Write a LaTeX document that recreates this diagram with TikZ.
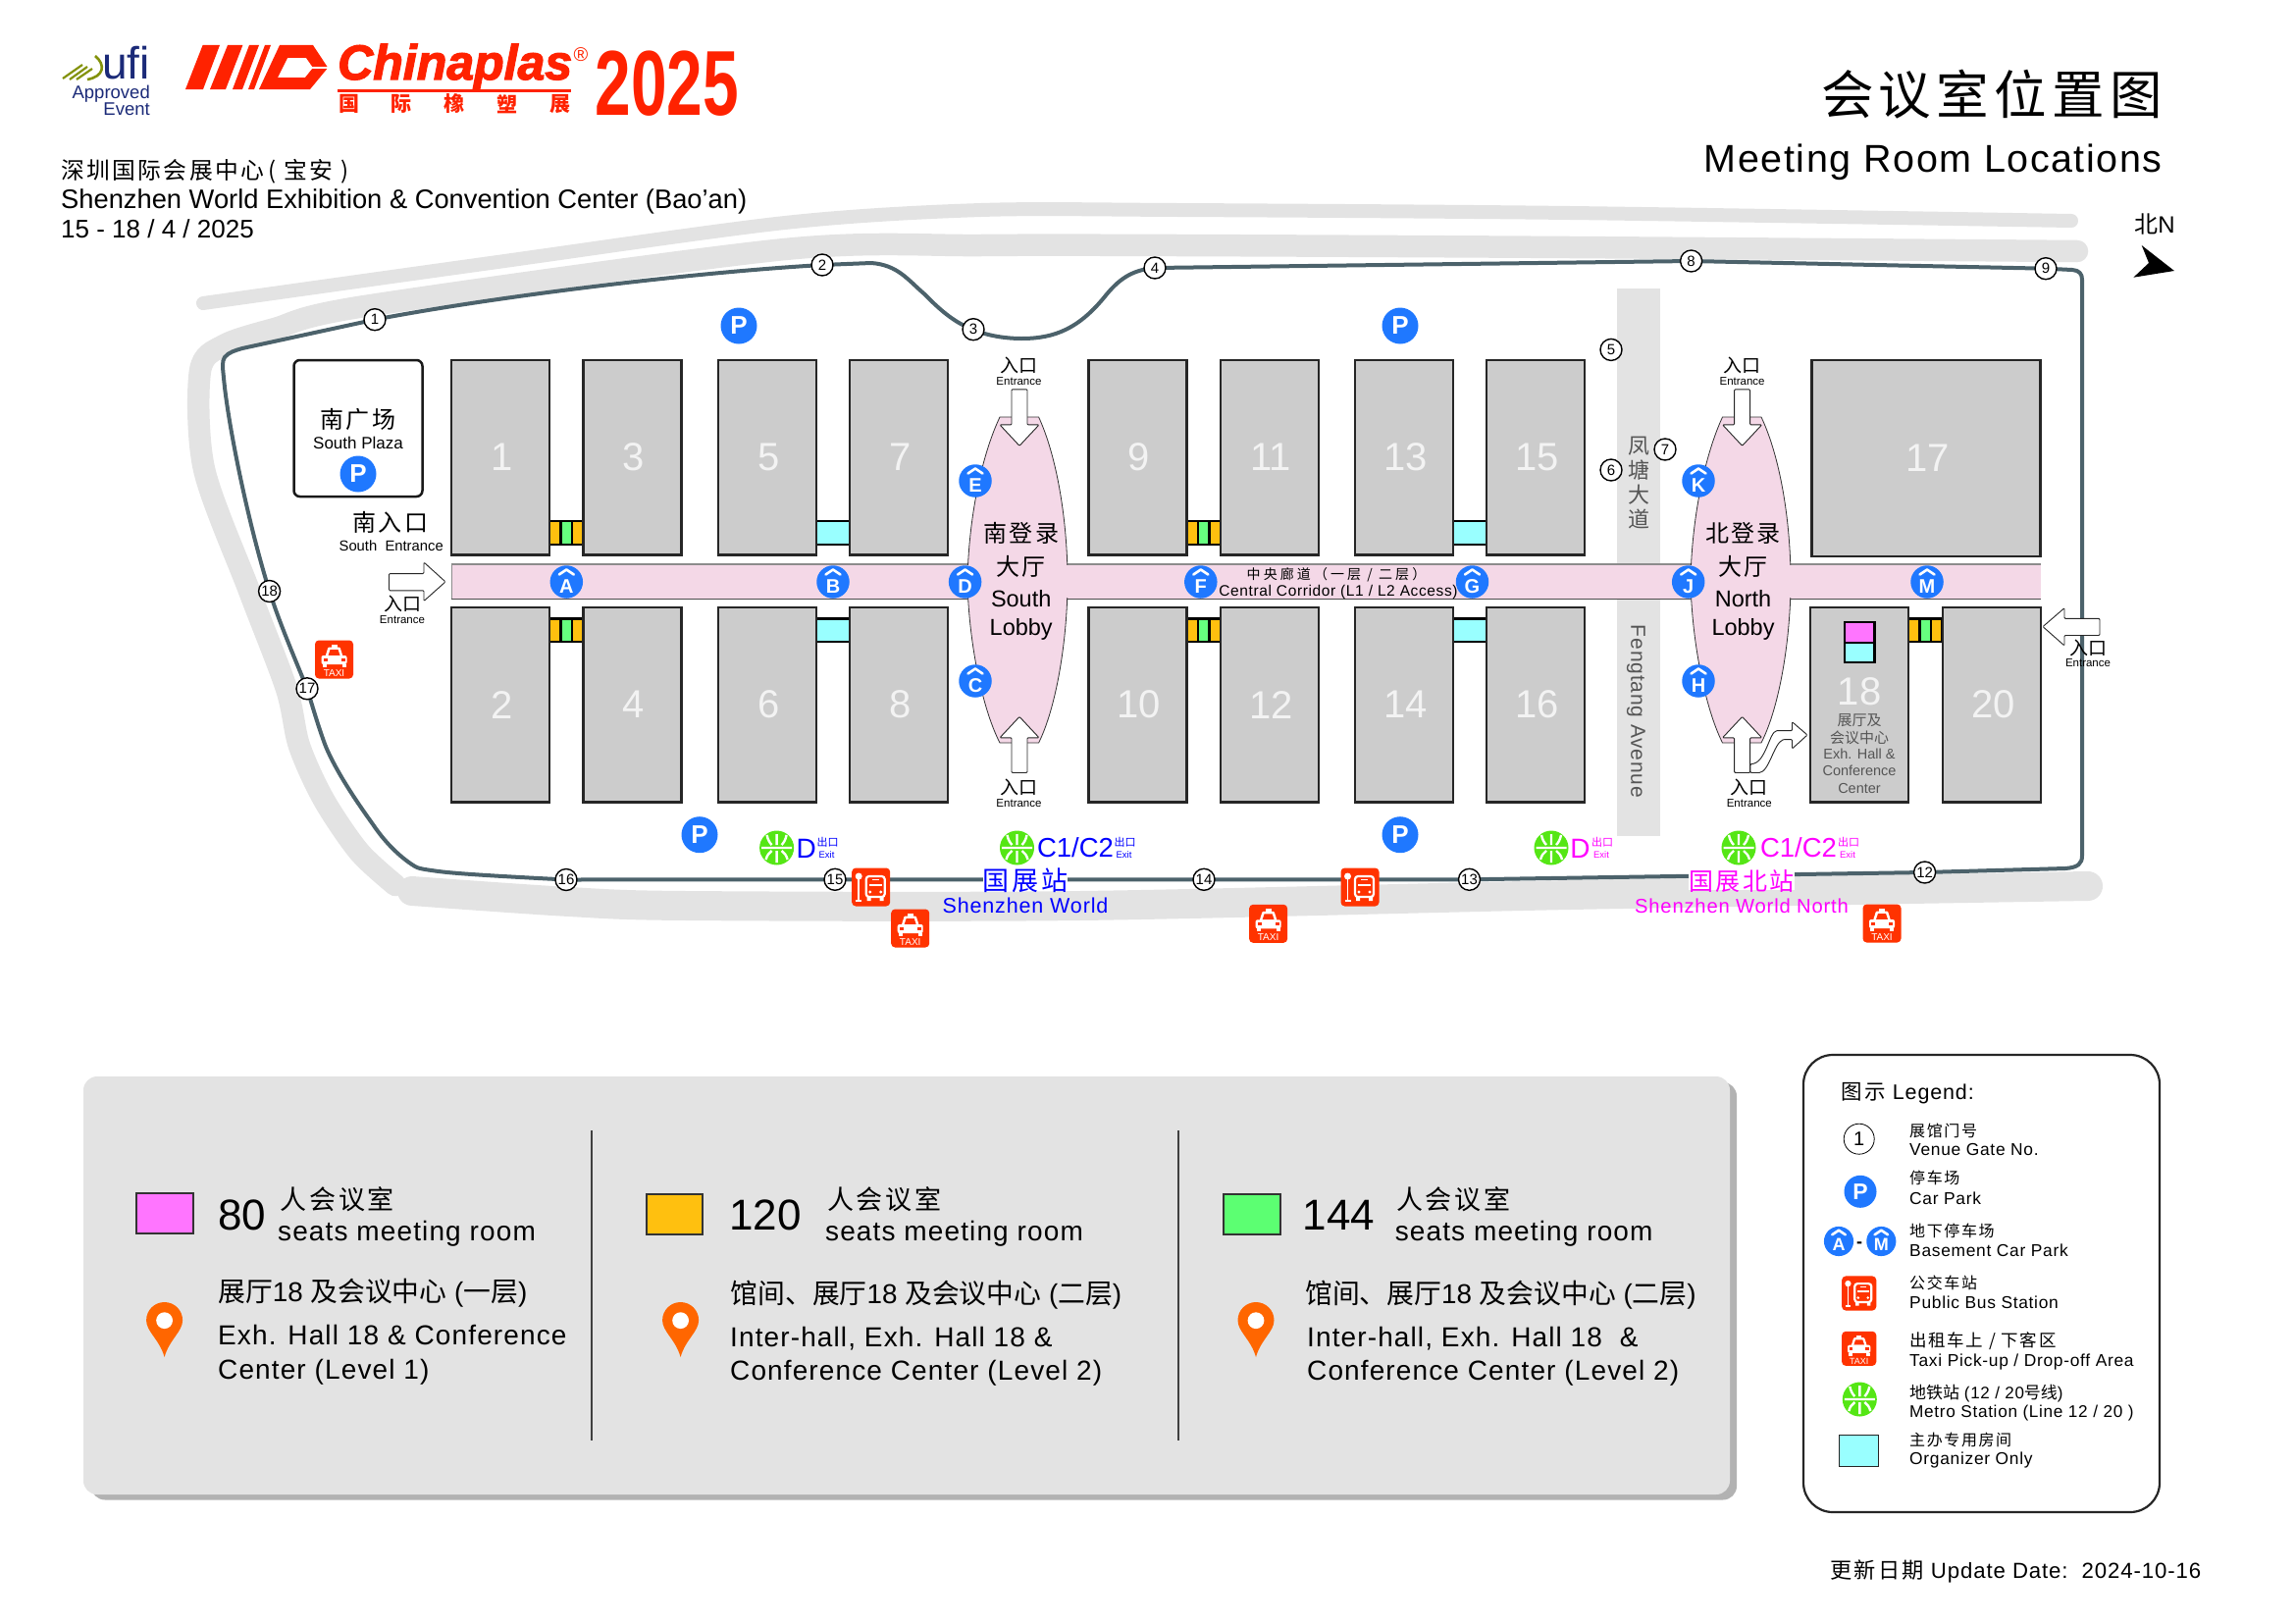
\documentclass[tikz,border=0pt]{standalone}
\usepackage{fontspec}
\setmainfont{Liberation Sans}
\newfontfamily\cjk{Noto Sans CJK SC}
\newfontfamily\cjks[LetterSpace=10]{Noto Sans CJK SC}
\newfontfamily\cjkw[LetterSpace=22]{Noto Sans CJK SC}
\newfontfamily\lsp[LetterSpace=4]{Liberation Sans}
\newfontfamily\chf[FakeBold=2.5]{Liberation Sans Bold Italic}
\newcommand\fs[1]{\fontsize{#1}{#1}\selectfont}
\newcommand\C[1]{{\cjk #1}}
\newcount\tn
\newcommand\lbl[4][]{\global\advance\tn by 1
  \node[name=t\the\tn,inner sep=0pt,font=\fs{#3},text height=#3*.72pt,text depth=0pt,#1] at (#2) {#4};}
\definecolor{hallc}{HTML}{CCCCCC}
\definecolor{numc}{HTML}{F3F3F3}
\definecolor{lightc}{HTML}{E3E3E3}
\definecolor{pinkc}{HTML}{F4D8E7}
\definecolor{roadc}{HTML}{4C626B}
\definecolor{blueP}{HTML}{1F78FF}
\definecolor{redc}{HTML}{FF3300}
\definecolor{logoc}{HTML}{FF2200}
\definecolor{greenm}{HTML}{55E615}
\definecolor{orgc}{HTML}{FFC00F}
\definecolor{grnc}{HTML}{66FF7F}
\definecolor{cyanc}{HTML}{99FFFF}
\definecolor{magc}{HTML}{FF75FF}
\definecolor{magt}{HTML}{FF00FF}
\definecolor{bluet}{HTML}{0000FF}
\definecolor{pinc}{HTML}{FF6600}
\definecolor{avc}{HTML}{555555}
\definecolor{ufic}{HTML}{1B2A78}
\tikzset{
  hallbox/.style={draw=black!85,line width=2.5pt,fill=hallc,text=numc,inner sep=0pt,font=\fs{40}},
  gate/.style={circle,draw=black,line width=1.4pt,fill=white,minimum size=22pt,inner sep=0pt,font=\fs{15}},
  road/.style={draw=roadc,line width=4pt,line join=round},
  band/.style={draw=lightc,line cap=round,line join=round},
  lobby/.style={fill=pinkc,draw=black!80,line width=.8pt},
  entry/.style={fill=white,draw=black!85,line width=.9pt,rounded corners=1pt,line join=round},
  room/.style={draw=black,line width=2.2pt},
  pcirc/.style={circle,fill=blueP,text=white,inner sep=0pt,font=\bfseries\fs{26}},
}
\newcommand\tri[2]{\draw[room,fill=orgc] (#1,#2) rectangle ++(11.5,23.6);\draw[room,fill=grnc] (#1+11.5,#2) rectangle ++(11.5,23.6);\draw[room,fill=orgc] (#1+23,#2) rectangle ++(11.5,23.6);}
% badge: name, position, letter
\newcommand\badge[4][1]{\begin{scope}[shift={(#3)},scale=#1,transform shape]
  \node[circle,fill=blueP,minimum size=33.5pt,inner sep=0pt,name=#2,text=white,font=\bfseries\fs{20}] at (0,0) {\raisebox{-11pt}[0pt][0pt]{#4}};
  \draw[white,line width=2.6pt,line cap=round,line join=round] (-7.5,-7.5) -- (0,-12.5) -- (7.5,-7.5);
\end{scope}}
\newcommand\taxi[3][1]{\begin{scope}[shift={(#3)},scale=#1,transform shape]
  \node[fill=redc,rounded corners=4pt,minimum size=39pt,inner sep=0pt,name=#2] at (0,0) {};
  \fill[white] (-3,-15) rectangle (3,-12.5);
  \fill[white,rounded corners=1pt] (-9,-3) -- (-6,-12.5) -- (6,-12.5) -- (9,-3) -- cycle;
  \fill[redc] (-6,-4) -- (-4,-10) -- (4,-10) -- (6,-4) -- cycle;
  \fill[white,rounded corners=2pt] (-13,-4) rectangle (13,5);
  \fill[redc] (-11,-1) rectangle (-7,2);\fill[redc] (7,-1) rectangle (11,2);
  \fill[white] (-12,5) rectangle (-8,8);\fill[white] (8,5) rectangle (12,8);
  \node[text=white,inner sep=0pt,font=\fs{10}] (#2l) at (0,14) {TAXI};
\end{scope}}
\newcommand\bus[3][1]{\begin{scope}[shift={(#3)},scale=#1,transform shape]
  \node[fill=redc,rounded corners=4pt,minimum size=39pt,inner sep=0pt,name=#2] at (0,0) {};
  \fill[white] (-12.5,-11) circle (3.5);
  \draw[white,line width=1.8pt] (-12.5,-9) -- (-12.5,13) (-15.5,14) -- (-9.5,14);
  \draw[white,line width=2.2pt,rounded corners=3pt] (-5,-11) rectangle (14,10);
  \draw[white,line width=1.5pt] (-2,-2) -- (11,-2) (1,-7.5) -- (8,-7.5);
  \fill[white] (-1,5) circle (1.6) (10,5) circle (1.6);
  \fill[white] (-4,10) rectangle (0,14) (9,10) rectangle (13,14);
\end{scope}}
\newcommand\metro[3][1]{\begin{scope}[shift={(#3)},scale=#1,transform shape]
  \node[circle,fill=greenm,minimum size=35pt,inner sep=0pt,name=#2] at (0,0) {};
  \draw[white,line width=2.4pt,line cap=butt] (0,-14) -- (0,-3) (-10,-13) .. controls (-9,-8) and (-7,-5) .. (-5,-3) (10,-13) .. controls (9,-8) and (7,-5) .. (5,-3)
     (-15.5,0) -- (15.5,0) (0,3) -- (0,15) (-5,3) .. controls (-8,5) and (-10,8) .. (-11,12) (5,3) .. controls (8,5) and (10,8) .. (11,12);
\end{scope}}
\newcommand\pin[1]{\begin{scope}[shift={(#1)}]
  \fill[pinc] (0,56) .. controls (-5,38) and (-18.5,30) .. (-18.5,18.5) .. controls (-18.5,8) and (-10,0) .. (0,0) .. controls (10,0) and (18.5,8) .. (18.5,18.5) .. controls (18.5,30) and (5,38) .. (0,56) -- cycle;
  \fill[white] (0,18.7) circle (8.4);
\end{scope}}
\begin{document}
\begin{tikzpicture}[x=1pt,y=-1pt]
\useasboundingbox (0,0) rectangle (2339,1654);
% ===== light roads
\draw[band,line width=14pt] plot[smooth,tension=.5] coordinates {(2111,225) (1600,217) (1200,214) (1000,214) (800,227) (500,268) (207,309)};
\draw[band,line width=22.5pt] plot[smooth,tension=.5] coordinates {(2117,256) (1600,252) (1200,250) (1000,250) (800,254) (372,312) (280,335) (228,352) (204,378) (208,478) (254,602) (292,702) (305,760) (330,815) (366,868) (403,902)};
\draw[band,line width=30pt] plot[smooth,tension=.5] coordinates {(420,908) (580,919) (700,923) (1100,923) (1600,912) (2128,903)};
\fill[lightc] (1648,294) rectangle (1692,852);
% ===== gate positions and dark road
\coordinate (p1) at (382,325.7);\coordinate (p2) at (838,270);\coordinate (p3) at (992,335.7);\coordinate (p4) at (1177,273);
\coordinate (p8) at (1723.6,266);\coordinate (p9) at (2085,273.7);\coordinate (p12) at (1961.6,889);\coordinate (p13) at (1497.5,896.3);
\coordinate (p14) at (1227,896.3);\coordinate (p15) at (851,896.3);\coordinate (p16) at (577,896.5);\coordinate (p17) at (313,701.8);\coordinate (p18) at (274.6,602.5);
\draw[road] (p1) .. controls (500,303) and (700,278) .. (p2) -- (888,268) .. controls (915,270) and (925,285) .. (942.5,300) .. controls (960,318) and (975,330) .. (p3) .. controls (1005,342) and (1025,345) .. (1041,345) .. controls (1075,345) and (1100,335) .. (1127.8,300) .. controls (1142,283) and (1155,275) .. (p4) -- (p8) -- (p9) -- (2112,275) .. controls (2119,275.5) and (2122,279) .. (2122,285) -- (2122,872) .. controls (2122,880) and (2118,884) .. (2105,885) -- (p12) -- (p13) -- (p14) -- (p15) -- (p16) .. controls (530,894) and (470,891) .. (447,888) .. controls (432,886) and (426,885) .. (423,883) .. controls (405,872) and (390,855) .. (380,840) .. controls (362,815) and (342,785) .. (331.7,760) .. controls (325,742) and (320,725) .. (p17) .. controls (298,665) and (285,635) .. (p18) .. controls (252,530) and (232,430) .. (228,385) .. controls (227,375) and (226,368) .. (229,364) .. controls (233,359) and (240,357) .. (247,355) -- (p1);
\foreach \g in {1,2,3,4,8,9,12,13,14,15,16,17,18} {\node[gate] (g\g) at (p\g) {\g};}
\node[gate] (g5) at (1642,356.4) {5};
\node[gate] (g6) at (1642,479) {6};
\node[gate] (g7) at (1697,458) {7};
% ===== corridor and lobbies
\fill[pinkc] (460,575) rectangle (2080,610);
\draw[black!45,line width=1.6pt] (460,575) -- (2080,575);
\draw[black!70,line width=1pt] (460,610) -- (2080,610);
\draw[black!45,line width=1pt] (460,575) -- (460,610);
\draw[lobby] (1019,425) .. controls (1000,465) and (987,530) .. (986,592) .. controls (987,650) and (1000,720) .. (1019,757) -- (1058.6,757) .. controls (1077,720) and (1088,650) .. (1088,592) .. controls (1088,530) and (1077,465) .. (1058.6,425) -- cycle;
\draw[lobby] (1755.5,425) .. controls (1737,465) and (1724,530) .. (1723,592) .. controls (1724,650) and (1737,720) .. (1755.5,757) -- (1795,757) .. controls (1814,720) and (1825,650) .. (1825,592) .. controls (1825,530) and (1814,465) .. (1795,425) -- cycle;
\fill[pinkc] (980,576) rectangle (1094,609);
\fill[pinkc] (1717,576) rectangle (1831,609);
% ===== bridges
\foreach \y in {531,630.4} {
  \foreach \x in {832,1481} {\draw[room,fill=cyanc] (\x,\y) rectangle ++(34,23.6);}
  \foreach \x in {560,1209.5} {\tri{\x}{\y}}}
\tri{1945}{630.4}
% ===== halls
\foreach \n/\x in {1/510,3/644.5,5/782,7/916,9/1159.5,11/1294,13/1431,15/1565} {\node[hallbox,minimum width=100pt,minimum height=198.6pt] (h\n) at (\x,466.1) {\hspace*{2.5pt}\n};}
\foreach \n/\x in {2/510,4/644.5,6/782,8/916,10/1159.5,12/1294,14/1431,16/1565,20/2030} {\node[hallbox,minimum width=100pt,minimum height=198.6pt] (h\n) at (\x,718.2) {\hspace*{2.5pt}\n};}
\node[hallbox,minimum width=233pt,minimum height=200pt] (h17) at (1963,467) {\hspace*{2.5pt}17};
\node[hallbox,minimum width=100pt,minimum height=198.6pt] (h18) at (1895,718.2) {};
\draw[room,fill=magc] (1880,634) rectangle (1910.5,654.6);
\draw[room,fill=cyanc] (1880,654.6) rectangle (1910.5,675);
\lbl[text=numc]{1895,703.6}{40}{18}
\lbl[text=avc]{1895,734}{15}{\C{展厅及}}
\lbl[text=avc]{1895,752.5}{15}{\C{会议中心}}
\lbl[text=avc]{1895,768}{14.5}{Exh. Hall \&}
\lbl[text=avc]{1895,785.5}{14.5}{Conference}
\lbl[text=avc]{1895,803}{14.5}{Center}
% ===== south plaza
\node[draw=black!90,line width=2.5pt,rounded corners=6pt,minimum width=131pt,minimum height=139pt,inner sep=0pt] (plaza) at (365,436.5) {};
\lbl{365,427.5}{24}{\cjks 南广场}
\lbl{365,451.8}{17}{South Plaza}
\node[pcirc,minimum size=37pt] (pk0) at (365,483) {P};
\lbl{398,533}{24}{\cjks 南入口}
\lbl{398.7,556}{14.8}{South\ \ Entrance}
% ===== parking
\node[pcirc,minimum size=37pt] (pk1) at (753,332) {P};
\node[pcirc,minimum size=37pt] (pk2) at (1427,332) {P};
\node[pcirc,minimum size=37pt] (pk3) at (713,850.7) {P};
\node[pcirc,minimum size=37pt] (pk4) at (1427,850.7) {P};
% ===== arrows
\draw[entry] (396.5,584.6) -- (432,584.6) -- (432,573) -- (454,592.9) -- (432,612.5) -- (432,601.8) -- (396.5,601.8) -- cycle;
\draw[entry] (2140,630.4) -- (2104,630.4) -- (2104,619.6) -- (2082,638.6) -- (2104,658) -- (2104,647.5) -- (2140,647.5) -- cycle;
\foreach \x in {1039,1775.6} {
 \draw[entry] (\x-8,396.8) -- (\x+8,396.8) -- (\x+8,432.9) -- (\x+20,432.9) -- (\x,454.3) -- (\x-20,432.9) -- (\x-8,432.9) -- cycle;
 \draw[entry] (\x-8,787.5) -- (\x+8,787.5) -- (\x+8,751.8) -- (\x+20,751.8) -- (\x,730.4) -- (\x-20,751.8) -- (\x-8,751.8) -- cycle;}
\draw[entry] (1784,778.6) .. controls (1800,778) and (1803,745) .. (1812,744.6) -- (1826.5,744.6) -- (1826.5,735.7) -- (1842,749) -- (1826.5,763) -- (1826.5,753.6) -- (1818,753.6) .. controls (1808,757) and (1803,787) .. (1792,787.5) -- (1784,787.5) -- cycle;
\lbl{1038.5,373}{19}{\C{入口}}\lbl{1038.5,388.6}{11.5}{Entrance}
\lbl{1038.5,802.9}{19}{\C{入口}}\lbl{1038.5,817.9}{11.5}{Entrance}
\lbl{1775.6,373}{19}{\C{入口}}\lbl{1775.6,388.6}{11.5}{Entrance}
\lbl{1782.8,802.9}{19}{\C{入口}}\lbl{1782.8,817.9}{11.5}{Entrance}
\lbl{2128,661}{19}{\C{入口}}\lbl{2128,675.7}{11.5}{Entrance}
\lbl{410,616}{19}{\C{入口}}\lbl{410,631.8}{11.5}{Entrance}
% ===== lobby labels
\lbl{1040.7,544}{24}{\cjks 南登录}\lbl{1040.7,578}{24}{\cjks 大厅}\lbl{1040.7,610}{23.5}{South}\lbl{1040.7,639}{23.5}{Lobby}
\lbl{1776.5,544}{24}{\cjks 北登录}\lbl{1776.5,578}{24}{\cjks 大厅}\lbl{1776.5,610}{23.5}{North}\lbl{1776.5,639}{23.5}{Lobby}
\lbl{1362,585.7}{14}{\cjkw 中央廊道（一层 / 二层）}
\lbl{1364,601.8}{15.5}{\lsp Central Corridor (L1 / L2 Access)}
% ===== badges
\badge{ba}{577.3,593}{A}\badge{bb}{849,593}{B}\badge{bd}{983.6,593}{D}\badge{be}{994,490}{E}\badge{bc}{994,694}{C}
\badge{bf}{1223.8,593}{F}\badge{bg}{1500.5,593}{G}\badge{bj}{1720.7,593}{J}\badge{bk}{1731,490}{K}\badge{bh}{1731,694}{H}\badge{bm}{1964,593}{M}
% ===== Fengtang Avenue
\lbl[text=avc]{1670,455}{22}{\C{凤}}\lbl[text=avc]{1670,480}{22}{\C{塘}}\lbl[text=avc]{1670,505}{22}{\C{大}}\lbl[text=avc]{1670,530}{22}{\C{道}}
\lbl[text=avc,rotate=-90]{1670,725}{21}{\lsp Fengtang Avenue}
% ===== transport
\taxi{tx1}{340.5,672}\taxi{tx2}{927.7,946}\taxi{tx3}{1292.6,941.3}\taxi{tx4}{1918,941}
\bus{bs1}{887.7,904}\bus{bs2}{1386,904}
\metro{m1}{791.6,864}\metro{m2}{1036.5,864}\metro{m3}{1581,864}\metro{m4}{1772,864}
\lbl[text=bluet]{821.6,864}{28}{D}\lbl[text=bluet]{843.5,859}{11}{\C{出口}}\lbl[text=bluet]{842.5,871}{9.5}{Exit}
\lbl[text=bluet]{1096,864}{27.5}{C1/C2}\lbl[text=bluet]{1146.7,859}{11}{\C{出口}}\lbl[text=bluet]{1145.5,871}{9.5}{Exit}
\lbl[text=magt]{1610.5,864}{28}{D}\lbl[text=magt]{1633,859}{11}{\C{出口}}\lbl[text=magt]{1632,871}{9.5}{Exit}
\lbl[text=magt]{1833,864}{27.5}{C1/C2}\lbl[text=magt]{1884,859}{11}{\C{出口}}\lbl[text=magt]{1883,871}{9.5}{Exit}
\lbl[text=bluet,fill=white]{1045,898}{27}{\cjks 国展站}
\lbl[text=bluet]{1045,922.7}{21.5}{\lsp Shenzhen World}
\lbl[text=magt,fill=white]{1775,898}{25}{\cjks 国展北站}
\lbl[text=magt]{1775,923}{20.2}{\lsp Shenzhen World North}
% ===== title block
\lbl[anchor=east]{2204,97}{53.5}{\cjks 会议室位置图}
\lbl[anchor=east]{2204,161}{39.5}{\lsp Meeting Room Locations}
\lbl[anchor=west]{62,174}{23.8}{\cjks 深圳国际会展中心\hspace{4pt}(\hspace{8pt}宝安\hspace{8pt})}
\lbl[anchor=west]{62,203}{27.3}{Shenzhen World Exhibition \& Convention Center (Bao'an)}
\lbl[anchor=west]{62,233}{26}{15 - 18 / 4 / 2025}
% ===== logos
\draw[olive!80!green,line width=2.2pt] (64,80) -- (84,66) (71,81) -- (89,68) (78,81) -- (94,70);
\draw[olive!80!green,line width=2.6pt] (97,57) .. controls (108,66) and (106,78) .. (89,81);
\lbl[anchor=east,text=ufic]{153,64}{46}{ufi}
\lbl[anchor=east,text=ufic]{153,94}{18.5}{Approved}
\lbl[anchor=east,text=ufic]{153,111}{18.5}{Event}
\fill[logoc] (206.6,46) -- (224,46) -- (207,91) -- (189,91) -- cycle;
\fill[logoc] (232,46) -- (247.4,46) -- (230,91) -- (214,91) -- cycle;
\fill[logoc] (254,46) -- (264,46) -- (247,91) -- (237,91) -- cycle;
\fill[logoc] (270,46) -- (276,46) -- (259,91) -- (253,91) -- cycle;
\fill[logoc,even odd rule] (285,46) -- (319,46) -- (334.2,69) -- (316,91) -- (264,91) -- cycle (293,59) -- (312,59) -- (319,69) -- (311,79) -- (283,79) -- cycle;
\fill[white] (318,68.5) rectangle (335,70);
\lbl[anchor=west,text=logoc]{344,63}{50}{\chf Chinaplas}
\lbl[text=logoc]{592,55}{20}{®}
\fill[logoc] (344,91) rectangle (582,94);
\foreach \c/\x in {国/355.6,际/409,橡/463,塑/517,展/571} {\node[inner sep=0pt,text=logoc,font=\fs{21}] (lg\x) at (\x,106) {\cjk\bfseries\c};}
\node[inner sep=0pt,text=logoc,text height=67pt,text depth=0pt] (yr) at (680,83.5) {\scalebox{.7}[1]{\fs{94}\bfseries 2025}};
% ===== north
\lbl{2196,229}{24}{\C{北}N}
\fill[black] (2182.7,250) -- (2216,276) -- (2174.3,282.7) -- (2190,268) -- cycle;
% ===== bottom panel
\fill[black!30,rounded corners=14pt] (93,1103) rectangle (1770,1528.5);
\fill[lightc,rounded corners=14pt] (85,1097) rectangle (1763,1523);
\draw[black!75,line width=1.8pt] (603,1152) -- (603,1468) (1201,1152) -- (1201,1468);
\draw[black!80,line width=1.5pt,fill=magc] (139,1216) rectangle (197,1257);
\draw[black!80,line width=1.5pt,fill=orgc] (659,1217) rectangle (716,1258);
\draw[black!80,line width=1.5pt,fill=grnc!90!green] (1247,1217) rectangle (1305,1258);
\pin{167.6,1327}\pin{693.6,1327}\pin{1280,1327}
\lbl[anchor=west]{222,1238}{44}{80}
\lbl[anchor=west]{285.5,1222.7}{27}{\cjks 人会议室}
\lbl[anchor=west]{283,1254}{28}{\lsp seats meeting room}
\lbl[anchor=west]{222,1316.7}{27.8}{\C{展厅}18 \C{及会议中心} (\C{一层})}
\lbl[anchor=west]{222,1360}{28}{\lsp Exh. Hall 18 \& Conference}
\lbl[anchor=west]{222,1395}{28}{\lsp Center (Level 1)}
\lbl[anchor=west]{743,1238}{44}{120}
\lbl[anchor=west]{843,1222.7}{27}{\cjks 人会议室}
\lbl[anchor=west]{841,1254}{28}{\lsp seats meeting room}
\lbl[anchor=west]{744.5,1318.6}{27.8}{\C{馆间、展厅}18 \C{及会议中心} (\C{二层})}
\lbl[anchor=west]{744,1362}{28}{\lsp Inter-hall, Exh. Hall 18 \&}
\lbl[anchor=west]{744,1396}{28}{\lsp Conference Center (Level 2)}
\lbl[anchor=west]{1327.6,1238}{44}{144}
\lbl[anchor=west]{1423,1222.7}{27}{\cjks 人会议室}
\lbl[anchor=west]{1421.6,1254}{28}{\lsp seats meeting room}
\lbl[anchor=west]{1330,1318.6}{27.8}{\C{馆间、展厅}18 \C{及会议中心} (\C{二层})}
\lbl[anchor=west]{1332,1362}{28}{\lsp Inter-hall, Exh. Hall 18\ \ \&}
\lbl[anchor=west]{1332,1396}{28}{\lsp Conference Center (Level 2)}
% ===== legend
\node[draw=black!85,line width=2.2pt,rounded corners=30pt,minimum width=363pt,minimum height=466pt,inner sep=0pt] (lgd) at (2019.5,1308) {};
\lbl[anchor=west]{1876.7,1113}{21.5}{\cjks 图示\lsp{} Legend:}
\node[circle,draw=black,line width=.8pt,minimum size=31pt,inner sep=0pt,font=\fs{20}] (lg1) at (1894.7,1160.7) {1};
\node[pcirc,minimum size=33pt,font=\bfseries\fs{23}] (lg2) at (1896,1214.3) {P};
\badge[.9]{lga}{1874,1265}{A}
\lbl{1895,1265}{18}{\bfseries -}
\badge[.9]{lgm}{1917.3,1265}{M}
\bus[.9]{lg4}{1894.7,1318}
\taxi[.9]{lg5}{1894.7,1374.3}
\metro[1]{lg6}{1895.3,1426}
\draw[black!85,line width=1.5pt,fill=cyanc] (1874.7,1462.7) rectangle (1914.3,1494.7);
\lbl[anchor=west]{1946,1152.7}{16}{\cjks 展馆门号}\lbl[anchor=west]{1946,1171.7}{17.4}{\lsp Venue Gate No.}
\lbl[anchor=west]{1946,1201}{16}{\cjks 停车场}\lbl[anchor=west]{1946,1221}{17.4}{\lsp Car Park}
\lbl[anchor=west]{1946,1254.3}{16}{\cjks 地下停车场}\lbl[anchor=west]{1946,1274}{17.4}{\lsp Basement Car Park}
\lbl[anchor=west]{1946,1307.3}{16}{\cjks 公交车站}\lbl[anchor=west]{1946,1327.7}{17.4}{\lsp Public Bus Station}
\lbl[anchor=west]{1946,1365.7}{17.5}{\cjks 出租车上 / 下客区}\lbl[anchor=west]{1946,1386}{17.4}{\lsp Taxi Pick-up / Drop-off Area}
\lbl[anchor=west]{1946,1419}{17}{\C{地铁站} \lsp (12 / 20\C{号线})}\lbl[anchor=west]{1946,1438.3}{17.2}{\lsp Metro Station (Line 12 / 20 )}
\lbl[anchor=west]{1946,1467.3}{16}{\cjks 主办专用房间}\lbl[anchor=west]{1946,1486}{17.4}{\lsp Organizer Only}
\lbl[anchor=east]{2243.5,1600.6}{22.2}{\cjks 更新日期\lsp{} Update Date:\ \ 2024-10-16}
\end{tikzpicture}
\end{document}
